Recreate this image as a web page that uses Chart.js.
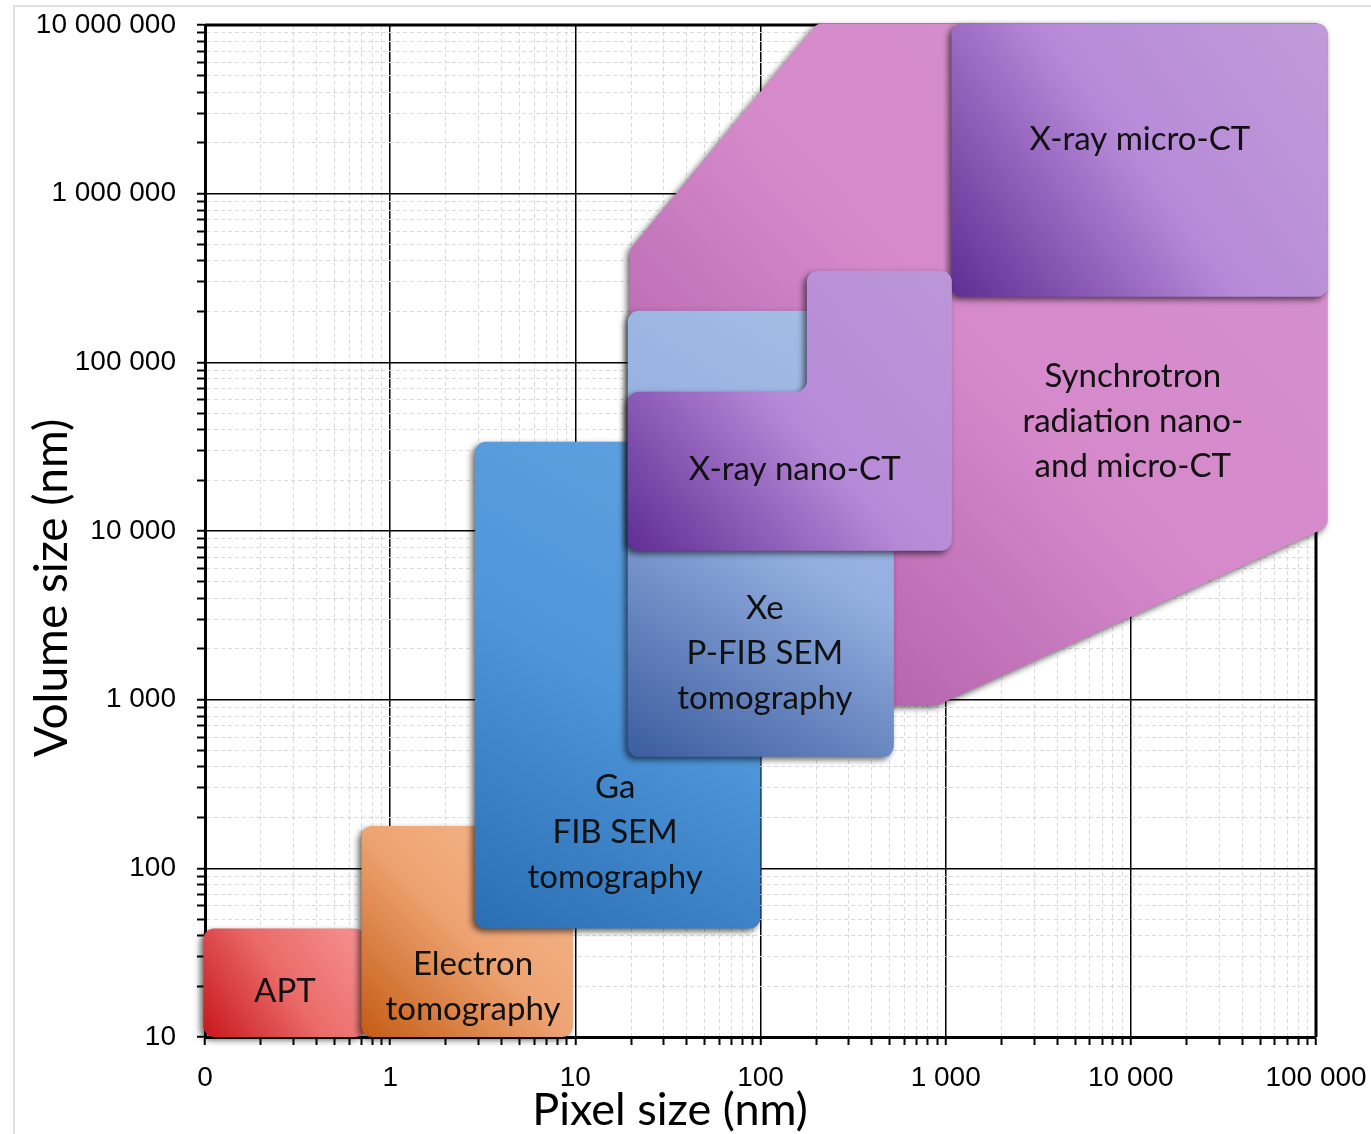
<!DOCTYPE html>
<html>
<head>
<meta charset="utf-8">
<title>Pixel size vs volume size</title>
<script src="https://cdn.jsdelivr.net/npm/chart.js@4.4.1/dist/chart.umd.min.js"></script>
<style>
  html, body { margin: 0; padding: 0; background: #fff; }
  #wrap { position: relative; width: 1371px; height: 1134px; overflow: hidden; }
  #frame { position: absolute; left: 13px; top: 5px; width: 1400px; height: 1200px; border: 2px solid #e0e0e0; }
  canvas { position: absolute; left: 0; top: 0; }
</style>
</head>
<body>
<div id="wrap"><div id="frame"></div><canvas id="myChart" width="1371" height="1134"></canvas></div>
<script>
// decades of the two log axes (nm)
const xDecades = [0.1, 1, 10, 100, 1000, 10000, 100000];
const yDecades = [10, 100, 1000, 10000, 100000, 1000000, 10000000];

// technique areas, polygon corners (pixel size, volume size)
const synchX = [19.7, 908, 115800, 115800, 202, 19.7];
const synchY = [931, 931, 10600, 10200000, 10200000, 466000];

const microX = [1075, 115800, 115800, 1075];
const microY = [245000, 245000, 10200000, 10200000];

const aptX = [0.098, 0.74, 0.74, 0.098];
const aptY = [10, 10, 44, 44];

const electronX = [0.7, 9.7, 9.7, 0.7];
const electronY = [10, 10, 178, 178];

const gaX = [2.87, 100, 100, 2.87];
const gaY = [44, 44, 33800, 33800];

const xeX = [19.2, 525, 525, 19.2];
const xeY = [458, 458, 202000, 202000];

const nanoX = [19.2, 1080, 1080, 178, 178, 19.2];
const nanoY = [7630, 7630, 349000, 349000, 66900, 66900];

const shapeNames = [
  "Synchrotron radiation nano- and micro-CT",
  "X-ray micro-CT",
  "APT",
  "Electron tomography",
  "Ga FIB SEM tomography",
  "Xe P-FIB SEM tomography",
  "X-ray nano-CT",
];
const shapeXs = [synchX, microX, aptX, electronX, gaX, xeX, nanoX];
const shapeYs = [synchY, microY, aptY, electronY, gaY, xeY, nanoY];

// gradient colours, dark bottom-left to light top-right
const shapeColors = [
  ["#a24f9c", "#d589cb", "#d592cd"],
  ["#5f2d94", "#b78ad8", "#c19bd9"],
  ["#c8161b", "#ea6a68", "#f69393"],
  ["#c45c14", "#eea473", "#f5b98f"],
  ["#2a6fb3", "#4f95d9", "#62a3e0"],
  ["#3b5c9e", "#93afe0", "#a7bfe6"],
  ["#5f2d94", "#b78ad8", "#bc96d8"],
];

// text inside the areas
const labelLines = [
  ["Synchrotron", "radiation nano-", "and micro-CT"],
  ["X-ray micro-CT"],
  ["APT"],
  ["Electron", "tomography"],
  ["Ga", "FIB SEM", "tomography"],
  ["Xe", "P-FIB SEM", "tomography"],
  ["X-ray nano-CT"],
];
const labelX = [10250, 11200, 0.27, 2.8, 16.4, 105.6, 153];
const labelY = [44400, 2090000, 18.7, 19.8, 164, 1870, 23100];

const xTitle = "Pixel size (nm)";
const yTitle = "Volume size (nm)";

// minor ticks 1..9 in every decade
const makeTicks = (decades) => {
  const out = [];
  decades.forEach((d, i) => {
    if (i === decades.length - 1) {
      out.push(d);
      return;
    }
    for (let m = 1; m < 10; m++) out.push(d * m);
  });
  return out;
};
const xTicks = makeTicks(xDecades);
const yTicks = makeTicks(yDecades);

const isDecade = (v) => Math.abs(Math.log10(v) - Math.round(Math.log10(v))) < 1e-6;
const tickLabel = (v) => {
  if (!isDecade(v)) return "";
  if (v < 1) return "0";
  return Math.round(v).toLocaleString("en-US").replace(/,/g, " ");
};

const gridColor = (c) => (c.tick && isDecade(c.tick.value) ? "#000" : "#dadada");
const gridWidth = (c) => (c.tick && isDecade(c.tick.value) ? 1.5 : 1);
const gridDash = (c) => (c.tick && !isDecade(c.tick.value) ? [4, 3] : []);

function roundedPath(ctx, pts, r) {
  const n = pts.length;
  const last = pts[n - 1];
  ctx.beginPath();
  ctx.moveTo((last.x + pts[0].x) / 2, (last.y + pts[0].y) / 2);
  for (let i = 0; i < n; i++) {
    const p = pts[i];
    const q = pts[(i + 1) % n];
    ctx.arcTo(p.x, p.y, q.x, q.y, r);
  }
  ctx.closePath();
}

const shapesPlugin = {
  id: "shapes",
  beforeDatasetsDraw(chart) {
    // top and right frame of the plot
    const { ctx, chartArea: a } = chart;
    ctx.save();
    ctx.strokeStyle = "#000";
    ctx.lineWidth = 3;
    ctx.beginPath();
    ctx.moveTo(a.left, a.top);
    ctx.lineTo(a.right, a.top);
    ctx.lineTo(a.right, a.bottom);
    ctx.stroke();
    ctx.restore();
  },
  afterDatasetsDraw(chart) {
    const ctx = chart.ctx;
    const sx = chart.scales.x;
    const sy = chart.scales.y;

    chart.data.datasets.forEach((ds, i) => {
      const pts = ds.data.map((p) => ({ x: sx.getPixelForValue(p.x), y: sy.getPixelForValue(p.y) }));
      const xs = pts.map((p) => p.x);
      const ys = pts.map((p) => p.y);
      const x0 = Math.min(...xs);
      const x1 = Math.max(...xs);
      const y0 = Math.min(...ys);
      const y1 = Math.max(...ys);
      const g = ctx.createLinearGradient(x0, y1, x1, y0);
      const cols = shapeColors[i];
      cols.forEach((c, k) => g.addColorStop(k / (cols.length - 1), c));

      ctx.save();
      ctx.shadowColor = "rgba(0, 0, 0, 0.6)";
      ctx.shadowBlur = 6;
      ctx.shadowOffsetX = -3;
      ctx.shadowOffsetY = 3;
      ctx.fillStyle = g;
      roundedPath(ctx, pts, 11);
      ctx.fill();
      ctx.restore();
    });

    ctx.save();
    ctx.font = "33px Lato";
    ctx.fillStyle = "#111";
    ctx.textAlign = "center";
    ctx.textBaseline = "middle";
    labelLines.forEach((lines, i) => {
      const cx = sx.getPixelForValue(labelX[i]);
      const cy = sy.getPixelForValue(labelY[i]);
      lines.forEach((t, k) => {
        ctx.fillText(t, cx, cy + (k - (lines.length - 1) / 2) * 45);
      });
    });
    ctx.restore();
  },
  afterDraw(chart) {
    // axis titles sit off-centre in the original, so they are placed by hand
    const ctx = chart.ctx;
    ctx.save();
    ctx.fillStyle = "#000";
    ctx.textAlign = "center";
    ctx.textBaseline = "middle";
    ctx.font = "45px Lato";
    ctx.fillText(xTitle, 670, 1110);
    ctx.translate(52, 588);
    ctx.rotate(-Math.PI / 2);
    ctx.font = "46px Lato";
    ctx.fillText(yTitle, 0, 0);
    ctx.restore();
  },
};

const datasets = shapeNames.map((name, i) => ({
  label: name,
  data: shapeXs[i].map((x, k) => ({ x: x, y: shapeYs[i][k] })),
  showLine: false,
  pointRadius: 0,
  pointHoverRadius: 0,
}));

const config = {
  type: "line",
  data: { datasets: datasets },
  options: {
    responsive: false,
    animation: false,
    layout: { padding: { top: 25, right: 55, left: 0, bottom: 0 } },
    plugins: {
      legend: { display: false },
      tooltip: { enabled: false },
    },
    scales: {
      x: {
        type: "logarithmic",
        min: 0.1,
        max: 100000,
        afterBuildTicks: (s) => {
          s.ticks = xTicks.map((v) => ({ value: v }));
        },
        afterFit: (s) => {
          s.height = 97;
          s.paddingLeft = 0;
          s.paddingRight = 0;
        },
        grid: { color: gridColor, lineWidth: gridWidth, tickColor: "#000", tickWidth: 2, tickLength: 8 },
        border: { color: "#000", width: 3, dash: gridDash },
        ticks: {
          autoSkip: false,
          maxRotation: 0,
          padding: 16,
          color: "#000",
          font: { family: "Liberation Sans", size: 28 },
          callback: (v) => tickLabel(v),
        },
      },
      y: {
        type: "logarithmic",
        min: 10,
        max: 10000000,
        afterBuildTicks: (s) => {
          s.ticks = yTicks.map((v) => ({ value: v }));
        },
        afterFit: (s) => {
          s.width = 205;
          s.paddingTop = 0;
          s.paddingBottom = 0;
        },
        grid: { color: gridColor, lineWidth: gridWidth, tickColor: "#000", tickWidth: 2, tickLength: 8 },
        border: { color: "#000", width: 3, dash: gridDash },
        ticks: {
          autoSkip: false,
          padding: 21,
          color: "#000",
          font: { family: "Liberation Sans", size: 28 },
          callback: (v) => tickLabel(v),
        },
      },
    },
  },
  plugins: [shapesPlugin],
};

const myChart = new Chart(document.getElementById("myChart"), config);
</script>
</body>
</html>
